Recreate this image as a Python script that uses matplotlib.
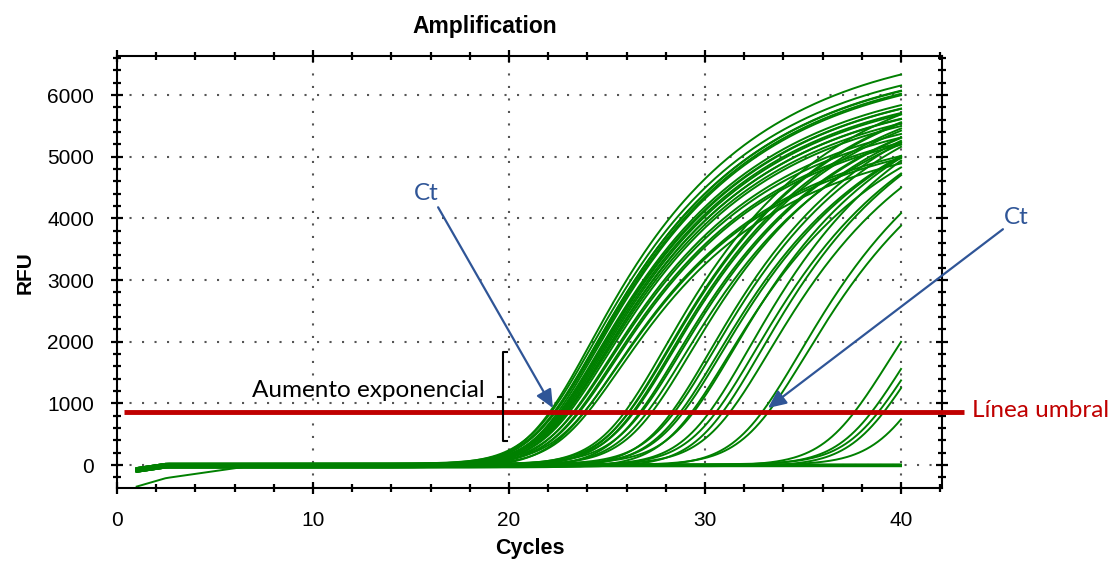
import numpy as np
import matplotlib.pyplot as plt
from matplotlib.ticker import MultipleLocator

# one entry per well: onset cycle and plateau RFU
onset = [21.9, 22.0, 22.1, 22.1, 22.2, 22.2, 22.3, 22.3, 22.4, 22.4, 22.5,
         22.5, 22.6, 22.6, 22.7, 22.8, 22.9, 23.0, 23.1, 23.2, 23.3, 23.4,
         25.7, 25.8, 25.9, 26.0, 26.1, 26.3, 26.5, 26.7, 27.0,
         28.0, 28.2, 28.4, 28.6, 28.9, 29.2,
         30.0, 30.3, 30.6, 31.0,
         32.6, 32.9,
         37.2, 38.1, 38.4, 38.6, 39.9,
         60.0, 60.0, 60.0]
plateau = [6930, 6700, 6650, 6620, 6600, 6560, 6400, 6360, 6320, 6280, 6240,
           6200, 6150, 6100, 6050, 5950, 5850, 5800, 5750, 5600, 5500, 5450,
           6600, 6500, 6450, 6400, 6350, 6300, 6250, 6200, 6300,
           6500, 6400, 6300, 6300, 6200, 6400,
           6600, 6400, 6500, 6300,
           6400, 6200,
           6000, 6000, 5800, 5800, 6000,
           0, 0, 0]
offset = [-30, 10, -20, 0, -40, 20, -10, -30, 10, -20, 0,
          -40, 20, -10, 0, -30, 10, -20, 0, -40, 20, -10,
          0, -30, 10, -20, 0, -40, 20, -10, 0,
          -30, 10, -20, 0, -40, 20,
          -10, 0, -30, 10,
          -20, 0,
          -10, 0, 10, -20, 0,
          0, -20, 10]
drift_start = -250      # one well starts low and creeps back to baseline
drift_end_cycle = 6.5
threshold = 860

cycles = np.linspace(1, 40, 400)
shape_a = 1.3
shape_b = 0.18

fig = plt.figure(figsize=(11.15, 5.63), dpi=100)
ax = fig.add_axes([0.105, 0.133, 0.74, 0.767])

for i in range(len(onset)):
    g = shape_b * np.logaddexp(0, (cycles - onset[i]) / shape_a)
    rfu = plateau[i] * (1 - np.exp(-g)) + offset[i]
    rfu = rfu + np.where(cycles < 2.5, -70 * (2.5 - cycles) / 1.5, 0)
    if i == 0:
        rfu = rfu + np.where(cycles < drift_end_cycle,
                             drift_start * (drift_end_cycle - cycles) / (drift_end_cycle - 1), 0)
    ax.plot(cycles, rfu, color="#008000", lw=1.4, zorder=2)

ax.set_xlim(0, 42.1)
ax.set_ylim(-375, 6630)
ax.xaxis.set_major_locator(MultipleLocator(10))
ax.xaxis.set_minor_locator(MultipleLocator(2))
ax.yaxis.set_major_locator(MultipleLocator(1000))
ax.yaxis.set_minor_locator(MultipleLocator(200))
ax.tick_params(which="both", direction="inout", top=True, right=True, width=1.6, labelsize=15)
ax.tick_params(which="major", length=9)
ax.tick_params(which="minor", length=6)
ax.tick_params(axis="x", which="major", pad=12)
ax.tick_params(axis="y", which="major", pad=12)
for lab in ax.get_xticklabels() + ax.get_yticklabels():
    lab.set_family("Liberation Sans")
for s in ax.spines.values():
    s.set_linewidth(1.5)
ax.grid(True, which="major", color="#555555", lw=1.5, linestyle=(0, (1, 5)), zorder=1)
ax.set_axisbelow(True)

fig.text(485 / 1115, 1 - 27 / 563, "Amplification", fontsize=16.5, fontweight="bold",
         family="Liberation Sans", ha="center", va="center")
ax.set_xlabel("Cycles", fontsize=15.5, fontweight="bold", family="Liberation Sans", labelpad=6)
ax.set_ylabel("RFU", fontsize=15, fontweight="bold", family="Liberation Sans", labelpad=9)

# threshold line runs past the right edge of the plot
ax.plot([0.36, 43.2], [threshold, threshold], color="#C00000", lw=3.5,
        clip_on=False, zorder=4, solid_capstyle="butt")
ax.text(43.6, threshold + 20, "Línea umbral", color="#C00000", fontsize=17.5,
        family="Lato", va="center", ha="left")

blue = "#2F5597"
arrow = dict(arrowstyle="-|>,head_length=1.1,head_width=0.5", color=blue, lw=1.6,
             shrinkA=0, shrinkB=0)
ax.annotate("", xy=(22.24, 924), xytext=(16.38, 4181), arrowprops=arrow,
            annotation_clip=False, zorder=5)
ax.annotate("", xy=(33.21, 924), xytext=(45.2, 3825), arrowprops=arrow,
            annotation_clip=False, zorder=5)
ax.text(15.77, 4408, "Ct", color=blue, fontsize=17.5, family="Lato", ha="center", va="center")
ax.text(45.9, 4019, "Ct", color=blue, fontsize=17.5, family="Lato", ha="center", va="center",
        clip_on=False)

ax.text(12.8, 1215, "Aumento exponencial", color="black", fontsize=17.5, family="Lato",
        ha="center", va="center", zorder=5)
ax.plot([19.89, 19.69, 19.69, 19.89], [1831, 1831, 389, 389], color="black", lw=1.5, zorder=5)
ax.plot([19.45, 19.69], [1102, 1102], color="black", lw=1.5, zorder=5)

fig.savefig("out.png", dpi=100)
